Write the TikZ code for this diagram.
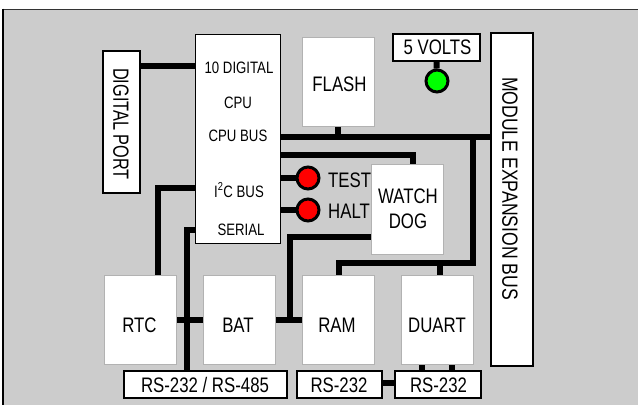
\documentclass[tikz,border=0pt]{standalone}
\usepackage{fontspec}
\setmainfont{Liberation Sans}[FakeStretch=0.8]
\newfontfamily\dpfont{Liberation Sans}[FakeStretch=0.74]
\pgfdeclarelayer{back}
\pgfdeclarelayer{bg}
\pgfsetlayers{back,bg,main}
\definecolor{bgray}{RGB}{204,204,204}
\definecolor{ledgreen}{RGB}{0,255,0}
\definecolor{ledred}{RGB}{255,0,0}
\begin{document}
\begin{tikzpicture}[x=1pt,y=-1pt,
  wbox/.style={fill=white, draw=gray!60, line width=0.6pt, inner sep=0pt},
  bbox/.style={fill=white, draw=black, line width=1.3pt, inner sep=0pt},
  conn/.style={line width=6pt, draw=black},
  led/.style={circle, draw=black, line width=3pt, minimum size=22pt, inner sep=0pt},
  big/.style={font=\fontsize{21}{21}\selectfont, inner sep=0pt},
  small/.style={font=\fontsize{16.5}{16.5}\selectfont, inner sep=0pt}]
\useasboundingbox (0,0) rectangle (638,405);
\begin{pgfonlayer}{back}
  \fill[bgray] (3,9) rectangle (638,405);
  \draw[black!80, line width=1pt] (638,9) -- (3,9);
  \draw[black, line width=2pt] (3,8.5) -- (3,405);
\end{pgfonlayer}

% boxes
\node[bbox, minimum width=37pt, minimum height=142pt] (dport) at (121.5,122) {};
\node[bbox, minimum width=85pt, minimum height=209pt, line width=1pt] (cpu) at (237.5,138.5) {};
\node[wbox, minimum width=72pt, minimum height=89pt] (flash) at (338,81.5) {};
\node[bbox, minimum width=87pt, minimum height=27pt] (volts) at (436.5,47.5) {};
\node[led, fill=ledgreen] (led5) at (437,81) {};
\node[bbox, minimum width=42pt, minimum height=333pt] (mbus) at (512,199.5) {};
\node[wbox, minimum width=72pt, minimum height=90pt] (watch) at (407,209) {};
\node[led, fill=ledred] (ledtest) at (308,178) {};
\node[led, fill=ledred] (ledhalt) at (308,210) {};
\node[wbox, minimum width=72pt, minimum height=89pt] (rtc) at (140,319.5) {};
\node[wbox, minimum width=72pt, minimum height=89pt] (bat) at (239,319.5) {};
\node[wbox, minimum width=72pt, minimum height=89pt] (ram) at (338,319.5) {};
\node[wbox, minimum width=72pt, minimum height=89pt] (duart) at (437,319.5) {};
\node[bbox, minimum width=163pt, minimum height=27pt] (rs485) at (205.5,384.5) {};
\node[bbox, minimum width=85pt, minimum height=27pt] (rs1) at (339.5,384.5) {};
\node[bbox, minimum width=86pt, minimum height=27pt] (rs2) at (438,384.5) {};

% texts
\node[inner sep=0pt, rotate=-90, font=\dpfont\fontsize{22}{22}\selectfont] (tdport) at (121,124) {DIGITAL PORT};
\node[small] (tc1) at (239,68) {10 DIGITAL};
\node[small] (tc2) at (238,103) {CPU};
\node[small] (tc3) at (238,136) {CPU BUS};
\node[small] (tc4) at (239,190) {I\textsuperscript{2}C BUS};
\node[small] (tc5) at (241,229.5) {SERIAL};
\node[big] (tflash) at (339.5,84) {FLASH};
\node[big] (tvolts) at (437.5,47.5) {5 VOLTS};
\node[big, rotate=-90, font=\fontsize{22}{22}\selectfont] (tmbus) at (510,188.5) {MODULE EXPANSION BUS};
\node[big] (twatch) at (408,196) {WATCH};
\node[big] (tdog) at (408,221) {DOG};
\node[big, anchor=west] (ttest) at (328,180) {TEST};
\node[big, anchor=west] (thalt) at (328,211.5) {HALT};
\node[big] (trtc) at (139.5,325.5) {RTC};
\node[big] (tbat) at (238,325.5) {BAT};
\node[big] (tram) at (337,325.5) {RAM};
\node[big] (tduart) at (437,325.5) {DUART};
\node[big] (trs485) at (205,385) {RS-232 / RS-485};
\node[big] (trs1) at (339,385) {RS-232};
\node[big] (trs2) at (438.5,385) {RS-232};

% connectors
\coordinate (j1) at (473,137);
\coordinate (j2) at (473,263);
\coordinate (j3) at (290,320);
\begin{pgfonlayer}{bg}
  \draw[conn] (dport.east |- 0,66) -- (cpu.west |- 0,66);
  \draw[conn] (cpu.east |- j1) -- (mbus.west |- j1);
  \draw[conn] (flash.south) -- (flash.south |- j1);
  \draw[conn] (cpu.east |- 0,155) -| ([xshift=6pt]watch.north);
  \draw[conn] (cpu.east |- ledtest) -- (ledtest);
  \draw[conn] (cpu.east |- ledhalt) -- (ledhalt);
  \draw[conn] (j1) -- (j2) -| ([xshift=1pt]ram.north);
  \draw[conn] ([xshift=3pt]duart.north) -- ([xshift=3pt]duart.north |- j2);
  \draw[conn] (watch.west |- 0,237) -| (j3);
  \draw[conn] (bat.east |- j3) -- (ram.west |- j3);
  \draw[conn] (rtc.east |- j3) -- (bat.west |- j3);
  \draw[conn] (cpu.west |- 0,230) -| (rs485.north -| 187,0);
  \draw[conn] (cpu.west |- 0,188) -| ([xshift=18pt]rtc.north);
  \draw[conn] (volts.south) -- (led5);
  \draw[conn] ([xshift=-15pt]duart.south) -- ([xshift=-15pt]duart.south |- rs2.north);
  \draw[conn] ([xshift=15pt]duart.south) -- ([xshift=15pt]duart.south |- rs2.north);
  \draw[conn] (rs1.east |- 0,383) -- (rs2.west |- 0,383);
\end{pgfonlayer}
\end{tikzpicture}
\end{document}
